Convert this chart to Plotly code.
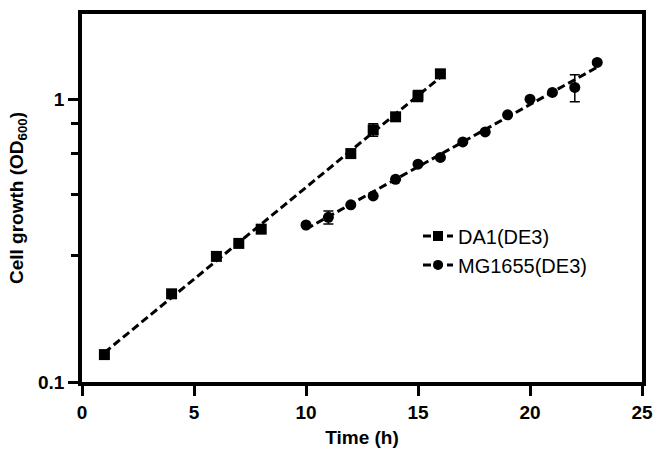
import numpy as np
import plotly.graph_objects as go

FONT = "Liberation Sans, Arial, sans-serif"
BLACK = "#000000"

# DA1(DE3)
da1_time = [1, 4, 6, 7, 8, 12, 13, 14, 15, 16]
da1_od = [0.125, 0.205, 0.278, 0.309, 0.347, 0.642, 0.779, 0.866, 1.027, 1.229]
da1_err = [0, 0, 0, 0, 0, 0, 0.04, 0, 0.045, 0]

# MG1655(DE3)
mg_time = [10, 11, 12, 13, 14, 15, 16, 17, 18, 19, 20, 21, 22, 23]
mg_od = [0.359, 0.382, 0.423, 0.455, 0.521, 0.589, 0.622, 0.706, 0.766, 0.880,
         1.000, 1.056, 1.100, 1.348]
mg_err = [0, 0.02, 0, 0, 0, 0, 0, 0, 0, 0, 0, 0, 0.12, 0]

y_minor = [0.28, 0.46, 0.64, 0.82]

DASH = "8px,4px"


def exp_fit(t, od):
    slope, intercept = np.polyfit(np.array(t, float), np.log10(od), 1)
    xs = np.array([min(t), max(t)], float)
    return xs, 10 ** (slope * xs + intercept)


fig = go.Figure()

series = [
    ("DA1(DE3)", da1_time, da1_od, da1_err, "square", 11),
    ("MG1655(DE3)", mg_time, mg_od, mg_err, "circle", 11),
]
for name, t, od, err, symbol, size in series:
    fx, fy = exp_fit(t, od)
    fig.add_trace(go.Scatter(
        x=fx, y=fy, mode="lines", showlegend=False,
        line=dict(color=BLACK, width=3, dash=DASH), hoverinfo="skip",
    ))
    fig.add_trace(go.Scatter(
        x=t, y=od, mode="markers", showlegend=False, name=name,
        marker=dict(symbol=symbol, size=size, color=BLACK),
        error_y=dict(type="data", array=err, color=BLACK, thickness=1.5, width=5),
    ))
    # legend entry
    fig.add_trace(go.Scatter(
        x=[None], y=[None], mode="lines+markers", name=name,
        line=dict(color=BLACK, width=3, dash=DASH),
        marker=dict(symbol=symbol, size=size - 1, color=BLACK),
    ))

axis_common = dict(
    showline=True, linecolor=BLACK, linewidth=3.5, mirror=True,
    showgrid=False, zeroline=False, automargin=False,
    ticks="outside", tickcolor=BLACK, tickwidth=3, ticklen=10,
    tickfont=dict(family=FONT, size=19, color=BLACK, weight="bold"),
)

fig.update_xaxes(
    range=[0, 25], tickvals=[0, 5, 10, 15, 20, 25],
    title=dict(text="<b>Time (h)</b>", font=dict(family=FONT, size=19, color=BLACK), standoff=10),
    **axis_common,
)
fig.update_yaxes(
    type="log", range=[-1, np.log10(2)], tickvals=[0.1, 1], ticktext=["0.1", "1"],
    minor=dict(tickmode="array", tickvals=y_minor, ticks="outside", ticklen=7,
               tickwidth=3, tickcolor=BLACK, showgrid=False),
    title=dict(text="<b>Cell growth (OD<sub>600</sub>)</b>",
               font=dict(family=FONT, size=19, color=BLACK), standoff=10),
    **axis_common,
)

fig.update_layout(
    width=654, height=450,
    margin=dict(l=82, r=12, t=14, b=68),
    paper_bgcolor="white", plot_bgcolor="white",
    font=dict(family=FONT, color=BLACK),
    legend=dict(x=0.6, y=0.45, xanchor="left", yanchor="top",
                font=dict(family=FONT, size=20, color=BLACK),
                bgcolor="rgba(0,0,0,0)", itemwidth=30, tracegroupgap=0),
)

fig.write_html("out.html", config={"displayModeBar": False},
               post_script="document.body.style.margin='0';")
